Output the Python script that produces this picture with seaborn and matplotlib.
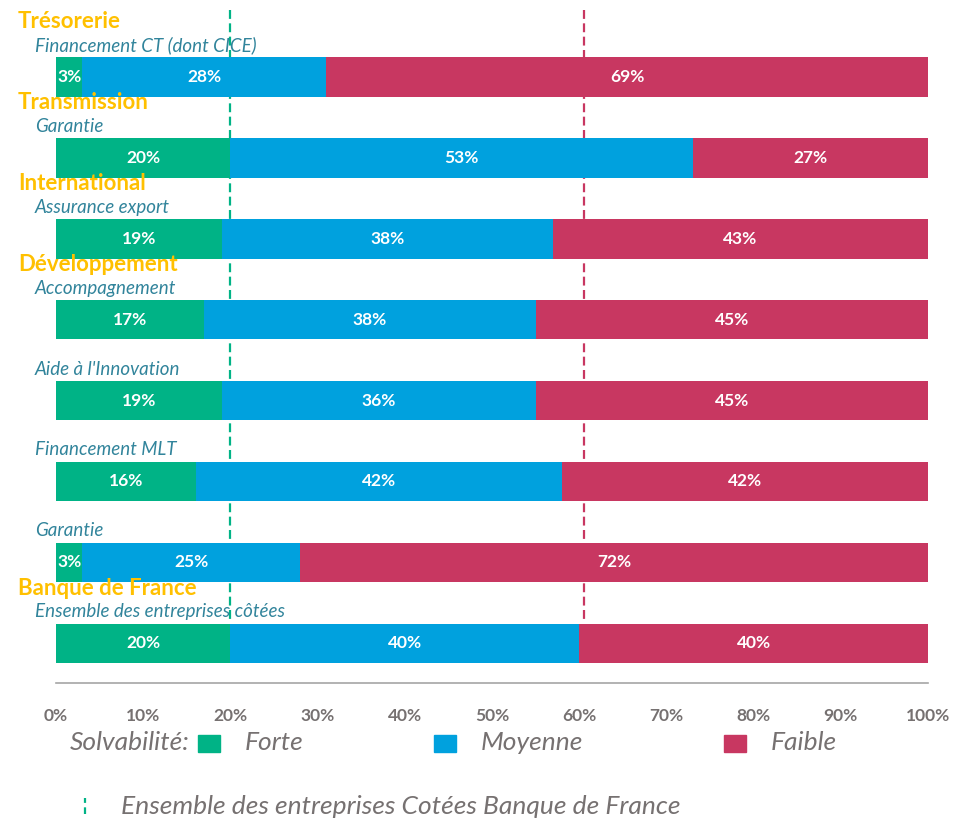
import pandas as pd
import seaborn as sns
import matplotlib.pyplot as plt
import matplotlib.transforms as mtransforms
from matplotlib.patches import Rectangle
from matplotlib.lines import Line2D

# Data
categories = ['Trésorerie', 'Transmission', 'International', 'Développement',
              '', '', '', 'Banque de France']
products = ['Financement CT (dont CICE)', 'Garantie', 'Assurance export',
            'Accompagnement', "Aide à l'Innovation", 'Financement MLT',
            'Garantie', 'Ensemble des entreprises côtées']
forte = [3, 20, 19, 17, 19, 16, 3, 20]
moyenne = [28, 53, 38, 38, 36, 42, 25, 40]
faible = [69, 27, 43, 45, 45, 42, 72, 40]
ref_lines = [20, 60.6]  # Ensemble des entreprises cotées (Forte, Forte+Moyenne)
ticks = [0, 10, 20, 30, 40, 50, 60, 70, 80, 90, 100]

GREEN = '#00B386'
BLUE = '#00A1DE'
RED = '#C83761'
GOLD = '#FFC000'
TEAL = '#31849B'
GREY = '#767171'
AXGREY = '#A6A6A6'

df = pd.DataFrame({'row': range(len(forte)), 'forte': forte,
                   'moyenne': moyenne, 'faible': faible})
df['cum_moy'] = df['forte'] + df['moyenne']
df['cum_all'] = df['cum_moy'] + df['faible']

sns.set_style('white')
plt.rcParams['font.family'] = ['Lato', 'DejaVu Sans']

fig = plt.figure(figsize=(9.63, 8.19), dpi=100)
ax = fig.add_axes([56 / 963, 1 - 683 / 819, (928 - 56) / 963, 683 / 819])

# dashed reference lines behind the bars
ax.vlines(ref_lines[0], -0.83, 6.75, colors=GREEN, linestyles=(0, (4, 2)),
          linewidth=1.6, zorder=0)
ax.vlines(ref_lines[1], -0.83, 6.75, colors=RED, linestyles=(0, (4, 2)),
          linewidth=1.6, zorder=0)

# stacked bars: draw cumulative totals from the back
for col, c in [('cum_all', RED), ('cum_moy', BLUE), ('forte', GREEN)]:
    sns.barplot(data=df, x=col, y='row', orient='h', color=c, saturation=1,
                width=0.49, ax=ax, zorder=2, linewidth=0)

# values inside segments
for i, r in df.iterrows():
    starts = [0, r['forte'], r['cum_moy']]
    for s, v in zip(starts, [r['forte'], r['moyenne'], r['faible']]):
        ax.text(s + v / 2, i, f'{v:.0f}%', ha='center', va='center',
                color='white', fontsize=12.5, fontweight='bold', zorder=3)

# row labels
trans = mtransforms.blended_transform_factory(fig.transFigure, ax.transData)
for i, (cat, prod) in enumerate(zip(categories, products)):
    ax.text(35 / 963, i - 0.39, prod, transform=trans, ha='left',
            va='center', color=TEAL, fontsize=13.5, style='italic')
    if cat:
        ax.text(18 / 963, i - 0.68, cat, transform=trans, ha='left',
                va='center', color=GOLD, fontsize=16, fontweight='bold')

ax.set_xlim(0, 100)
ax.set_ylim(7.49, -0.95)
ax.set_xticks(ticks)
ax.set_xticklabels([f'{t}%' for t in ticks], color=GREY, fontweight='bold',
                   fontsize=12.5)
ax.set_yticks([])
ax.set_xlabel('')
ax.set_ylabel('')
for side in ['top', 'right', 'left']:
    ax.spines[side].set_visible(False)
ax.spines['bottom'].set_color(AXGREY)
ax.spines['bottom'].set_linewidth(1.2)
ax.tick_params(axis='x', direction='out', length=7, width=1.2,
               color=AXGREY, pad=11)

# legend
fig.text(70 / 963, 1 - 743 / 819, 'Solvabilité:', color=GREY, style='italic',
         fontsize=19, va='center')
for x0, c, lab in [(198, GREEN, 'Forte'), (434, BLUE, 'Moyenne'),
                   (724, RED, 'Faible')]:
    fig.patches.append(Rectangle((x0 / 963, 1 - 752 / 819), 22 / 963,
                                 17 / 819, transform=fig.transFigure,
                                 color=c))
    fig.text((x0 + 47) / 963, 1 - 743 / 819, lab, color=GREY, style='italic',
             fontsize=19, va='center')
fig.lines.append(Line2D([85 / 963, 85 / 963], [1 - 814 / 819, 1 - 798 / 819],
                        transform=fig.transFigure, color=GREEN,
                        linestyle=(0, (3, 2)), linewidth=1.6))
fig.text(121 / 963, 1 - 806 / 819,
         'Ensemble des entreprises Cotées Banque de France', color=GREY,
         style='italic', fontsize=19, va='center')

fig.savefig('out.png', dpi=100)
